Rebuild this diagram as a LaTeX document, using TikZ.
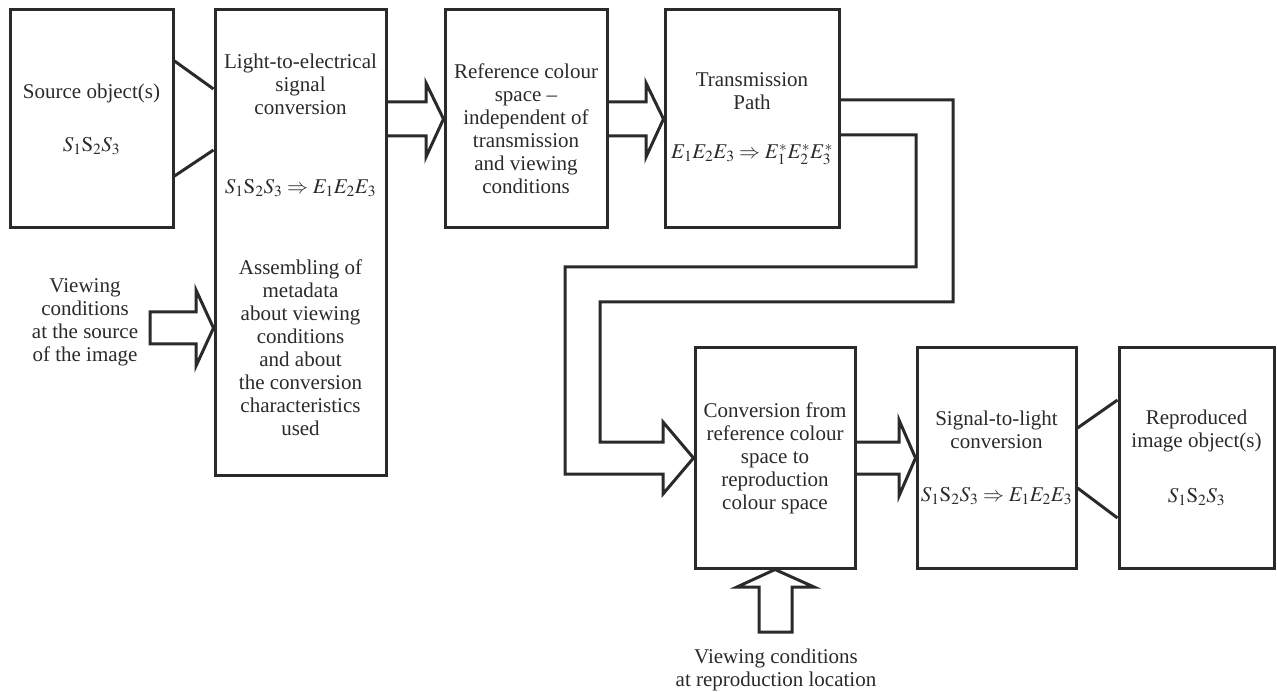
\documentclass[tikz,border=0pt]{standalone}
\usepackage{mathptmx}
\usepackage{fontspec}
\setmainfont{Liberation Serif}
\usetikzlibrary{calc}
\definecolor{ink}{RGB}{42,42,42}

\begin{document}
\begin{tikzpicture}[
    x=1pt, y=-1pt,
    block/.style={rectangle, draw=ink, line width=3pt, inner sep=0pt, align=center, text=ink, font=\fontsize{21}{23}\selectfont},
    txt/.style={align=center, inner sep=0pt, text=ink, font=\fontsize{21}{23}\selectfont},
    fat/.style={draw=ink, line width=3pt, line join=miter},
    wedge/.style={draw=ink, line width=3pt}
]
    \useasboundingbox (0,0) rectangle (1277,692);

    % Source side
    \node[block, minimum width=163, minimum height=218] (src) at (91.5,119) {Source object(s)\\[30pt] $S_1\mathrm{S}_2S_3$};
    \node[block, minimum width=171, minimum height=465] (l2e) at (300.5,242.5) {};
    \node[txt] (l2etitle) at (300.5,84) {Light-to-electrical\\signal\\conversion};
    \node[txt] (l2emath) at (300.5,188) {$S_1\mathrm{S}_2S_3\Rightarrow E_1E_2E_3$};
    \node[txt] (l2emeta) at (300.5,348) {Assembling of\\metadata\\about viewing\\conditions\\and about\\the conversion\\characteristics\\used};
    \node[txt] (vcsrc) at (85,322) {Viewing\\conditions\\at the source\\of the image};

    % Reference and transmission
    \node[block, minimum width=162, minimum height=218] (ref) at (526,119) {};
    \node[txt] (reftxt) at (526,129) {Reference colour\\space --\\independent of\\transmission\\and viewing\\conditions};
    \node[block, minimum width=174, minimum height=218] (trans) at (752,119) {Transmission\\Path\\[26pt] $E_1E_2E_3\Rightarrow E_1^{*}E_2^{*}E_3^{*}$};

    % Reproduction side
    \node[block, minimum width=160, minimum height=220] (conv) at (775,458) {Conversion from\\reference colour\\space to\\reproduction\\colour space};
    \node[block, minimum width=159, minimum height=220] (s2l) at (996.5,458) {Signal-to-light\\conversion\\[30pt] $S_1\mathrm{S}_2S_3\Rightarrow E_1E_2E_3$};
    \node[block, minimum width=155, minimum height=220] (repro) at (1196.5,458) {Reproduced\\image object(s)\\[32pt] $S_1\mathrm{S}_2S_3$};
    \node[txt] (vcrep) at (776,670) {Viewing conditions\\at reproduction location};

    % wedges
    \draw[wedge] (src.east |- 0,61) -- (l2e.west |- 0,89);
    \draw[wedge] (src.east |- 0,176) -- (l2e.west |- 0,150);
    \draw[wedge] (s2l.east |- 0,428) -- (repro.west |- 0,400);
    \draw[wedge] (s2l.east |- 0,488) -- (repro.west |- 0,518);

    % fat arrows
    \draw[fat] (l2e.east |- 0,102) -- (426,102) -- (426,83) -- (ref.west) -- (426,157) -- (426,136) -- (l2e.east |- 0,136);
    \draw[fat] (ref.east |- 0,102) -- (646,102) -- (646,83) -- (trans.west) -- (646,157) -- (646,136) -- (ref.east |- 0,136);
    \draw[fat] (trans.east |- 0,100) -- (953,100) -- (953,302) -- (600,302) -- (600,442) -- (663,442) -- (663,422)
        -- (conv.west) -- (663,494) -- (663,474) -- (565,474) -- (565,267) -- (916,267) -- (916,135) -- (trans.east |- 0,135);
    \draw[fat] (conv.east |- 0,442) -- (899,442) -- (899,420) -- (s2l.west) -- (899,496) -- (899,474) -- (conv.east |- 0,474);
    \draw[fat] (150,312) -- (196,312) -- (196,290) -- (l2e.west |- 0,328) -- (196,366) -- (196,344) -- (150,344) -- cycle;
    \draw[fat] (conv.south) -- (814,587) -- (792,587) -- (792,632) -- (759,632) -- (759,587) -- (737,587) -- cycle;
\end{tikzpicture}
\end{document}
